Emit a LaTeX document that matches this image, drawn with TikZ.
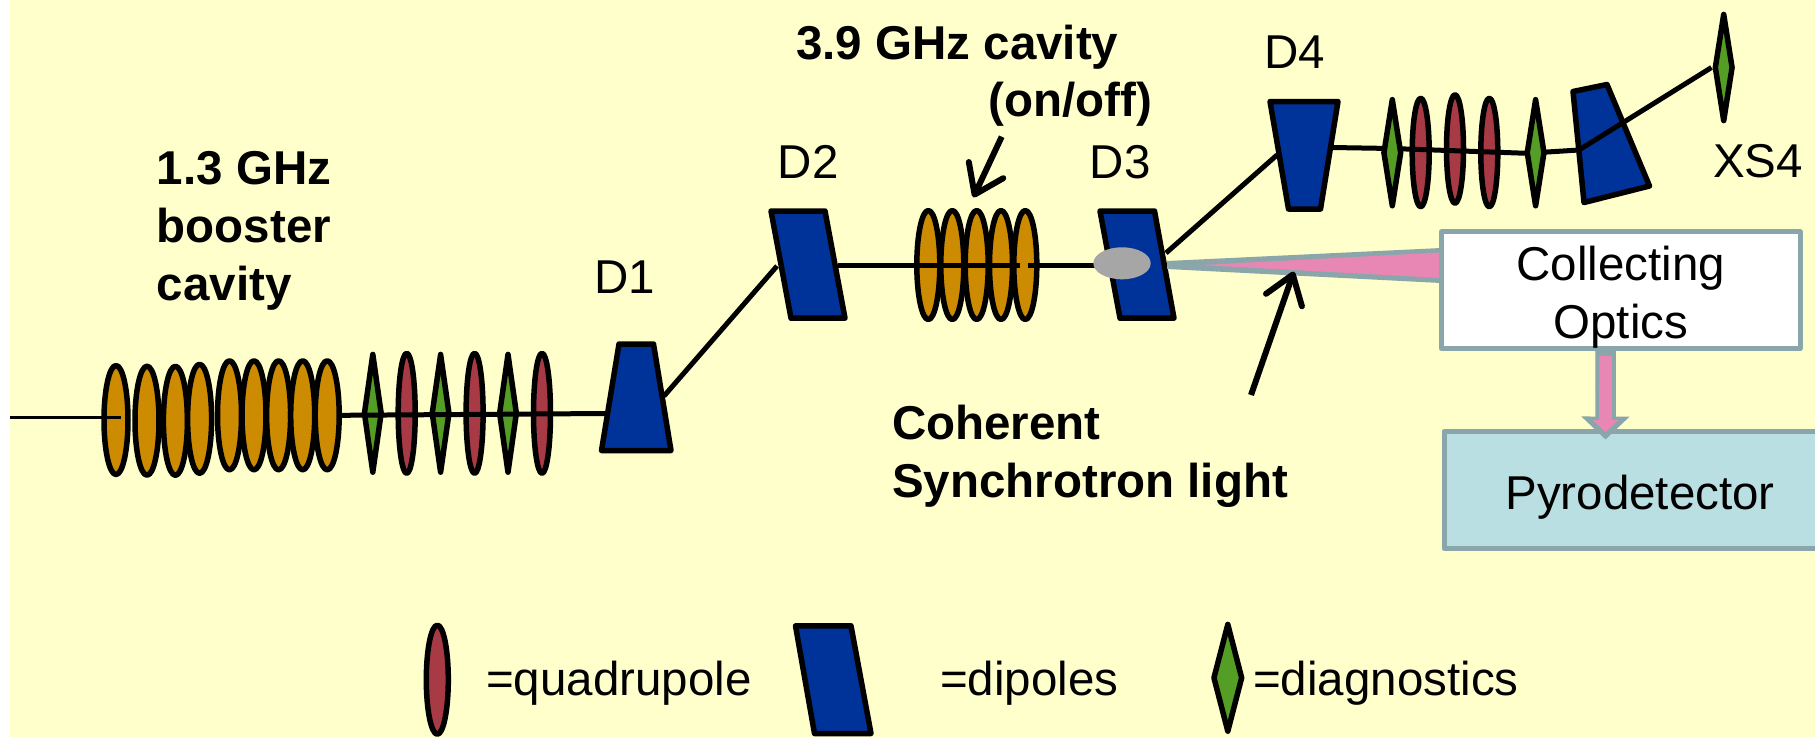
\documentclass[tikz,border=0pt]{standalone}
\usepackage{fontspec}
\setmainfont{Liberation Sans}
\usetikzlibrary{arrows.meta,calc,shapes.geometric}
\definecolor{bgyellow}{RGB}{255,255,204}
\definecolor{cavorange}{RGB}{204,139,0}
\definecolor{quadred}{RGB}{168,58,70}
\definecolor{diaggreen}{RGB}{84,158,37}
\definecolor{dipblue}{RGB}{0,51,153}
\definecolor{lightpink}{RGB}{232,135,180}
\definecolor{optgray}{RGB}{138,166,170}
\definecolor{pyroblue}{RGB}{185,223,227}
\definecolor{spotgray}{RGB}{166,166,166}
\tikzset{
base/.style={draw=black, line width=5.5pt, line join=round, inner sep=0pt},
cavity/.style={base, ellipse, fill=cavorange, minimum width=24pt, minimum height=109pt},
smallcavity/.style={cavity, minimum width=23pt},
quadrupole/.style={base, ellipse, fill=quadred, minimum width=17pt, minimum height=108.4pt},
diagnostic/.style={base, diamond, fill=diaggreen, minimum width=19pt, minimum height=108.4pt},
tall/.style={minimum height=120pt},
dipole/.style={draw=black, line width=5.5pt, line join=round, fill=dipblue},
beam/.style={draw=black, line width=5pt},
thinbeam/.style={draw=black, line width=3pt},
pointer/.style={draw=black, line width=6pt, -{Straight Barb[length=27pt,width=38pt,round]}},
boxed/.style={draw=optgray, line width=5pt, line join=round, inner sep=0pt, align=center, font=\fontsize{47.5}{57.7}\selectfont},
txt/.style={inner sep=0pt, anchor=base west, font=\fontsize{47.5}{57.7}\selectfont},
boldtxt/.style={txt, align=left, font=\fontsize{47.5}{57.7}\selectfont\bfseries}
}
\begin{document}
\begin{tikzpicture}[x=1pt,y=-1pt]
\useasboundingbox (0,0) rectangle (1815,737);
\fill[bgyellow] (10,0) rectangle (1815,737);
% booster line
\node[cavity] (cava1) at (116,420) {};
\node[cavity] (cava2) at (147,420.7) {};
\node[cavity] (cava3) at (175.4,420.8) {};
\node[cavity] (cava4) at (199.6,418.8) {};
\node[cavity] (cava5) at (229.5,415.3) {};
\node[cavity] (cava6) at (254,415.3) {};
\node[cavity] (cava7) at (278.6,415.3) {};
\node[cavity] (cava8) at (302.7,415.3) {};
\node[cavity] (cava9) at (327.2,415.3) {};
\node[diagnostic, tall] (diaga1) at (372.8,413.3) {};
\node[quadrupole, tall] (quada1) at (406.7,413.3) {};
\node[diagnostic, tall] (diaga2) at (440.6,413.3) {};
\node[quadrupole, tall] (quada2) at (474.6,413.3) {};
\node[diagnostic, tall] (diaga3) at (508,413.3) {};
\node[quadrupole, tall] (quada3) at (542,413.3) {};
\coordinate (start) at (10,417.3);
\coordinate (d1in) at (606,413.5);
\coordinate (d1out) at (664,396);
\coordinate (d2in) at (777,266);
\coordinate (d2out) at (838,265);
\coordinate (d3in) at (1097,265);
\coordinate (d3out) at (1166,253);
\coordinate (d4in) at (1277,155);
\coordinate (d4out) at (1332,147.5);
\coordinate (d5in) at (1579,150);
\draw[thinbeam] (start) -- (121,417.3);
\draw[beam] (cava9.east) -- (d1in);
\draw[dipole] (619,344) -- (653.5,344) -- (671,450.5) -- (601.5,450.5) -- cycle;
\draw[beam] (d1out) -- (d2in);
% middle section
\draw[dipole] (771,211) -- (825,211) -- (845,318.2) -- (791,318.2) -- cycle;
\draw[dipole] (1100,211) -- (1154.5,211) -- (1174,318.2) -- (1120,318.2) -- cycle;
\node[smallcavity] (cavb1) at (928.3,265) {};
\node[smallcavity] (cavb2) at (952.3,265) {};
\node[smallcavity] (cavb3) at (976.7,265) {};
\node[smallcavity] (cavb4) at (1001,265) {};
\node[smallcavity] (cavb5) at (1025.3,265) {};
\draw[beam] (d2out) -- (1020,265);
\draw[beam] (1028.3,265) -- (d3in);
\node[ellipse, fill=spotgray, inner sep=0pt, minimum width=57.4pt, minimum height=32pt] (spot) at (1122,263.3) {};
\draw[beam] (d3out) -- (d4in);
% light cone and optics
\fill[optgray] (1167,261) -- (1441,248) -- (1441,283) -- (1167,269) -- cycle;
\fill[lightpink] (1202,265) -- (1441,252.5) -- (1441,278) -- cycle;
\node[boxed, fill=white, minimum width=358.5pt, minimum height=115.5pt] (optics) at (1620.75,290.25) {\rule{0pt}{49pt}Collecting\\Optics};
\node[boxed, fill=pyroblue, minimum width=392pt, minimum height=116.5pt] (pyro) at (1640,490) {\rule{0pt}{49pt}Pyrodetector};
\coordinate (lightout) at ($(optics.south)+(-15.2,0)$);
\coordinate (pyroin) at (1605.5,439.5);
\coordinate (pyroinner) at (1605.5,432);
\draw[draw=optgray, line width=20.5pt, -{Triangle[length=23pt,width=47pt]}] (lightout) -- (pyroin);
\draw[draw=lightpink, line width=12.6pt, -{Triangle[length=12pt,width=25pt]}] ($(lightout)+(0,5)$) -- (pyroinner);
% last section
\draw[dipole] (1270,101.5) -- (1338,101.5) -- (1320.5,209) -- (1288.5,209) -- cycle;
\draw[dipole] (1573,91.5) -- (1607,84.5) -- (1649.5,186) -- (1584,202.5) -- cycle;
\node[quadrupole] (quadb1) at (1420.7,152.5) {};
\node[quadrupole] (quadb2) at (1455,149) {};
\node[quadrupole] (quadb3) at (1489.3,152.5) {};
\node[diagnostic] (xs4) at (1723.7,67.5) {};
\draw[beam] (d4out) -- (1392,148.5) -- (1526.6,153.3) -- (d5in) -- (xs4.west);
\node[diagnostic] (diagb1) at (1392.3,152.7) {};
\node[diagnostic] (diagb2) at (1535.6,152.7) {};
% labels
\node[boldtxt] (boostertxt) at (156.7,300) {1.3 GHz\\booster\\cavity};
\node[boldtxt] (cavbtxt) at (796,59.3) {3.9 GHz cavity};
\node[boldtxt] (onofftxt) at (988.5,116) {(on/off)};
\node[boldtxt] (coherenttxt) at (892,497) {Coherent\\Synchrotron light};
\node[txt] (d1txt) at (594,293.5) {D1};
\node[txt] (d2txt) at (777.5,178.5) {D2};
\node[txt] (d3txt) at (1089.5,178.5) {D3};
\node[txt] (d4txt) at (1264,68.5) {D4};
\node[txt] (xs4txt) at (1713,177.5) {XS4};
\coordinate (cavbtail) at (1001.7,136.7);
\coordinate (cavbtip) at (973.3,197.3);
\coordinate (lighttail) at (1251,395);
\coordinate (lighttip) at (1293.8,271.7);
\draw[pointer] (cavbtail) -- (cavbtip);
\draw[pointer] (lighttail) -- (lighttip);
% legend
\node[quadrupole, minimum width=22pt, minimum height=109pt] (legquad) at (437.3,679.7) {};
\node[txt] (legquadtxt) at (486,695) {=quadrupole};
\draw[dipole] (795.5,625.8) -- (851,625.8) -- (871,733.5) -- (814.5,733.5) -- cycle;
\node[txt] (legdiptxt) at (940,695) {=dipoles};
\node[diagnostic, minimum width=30pt, minimum height=109pt] (legdiag) at (1227.8,677.8) {};
\node[txt] (legdiagtxt) at (1253,695) {=diagnostics};
\end{tikzpicture}
\end{document}
